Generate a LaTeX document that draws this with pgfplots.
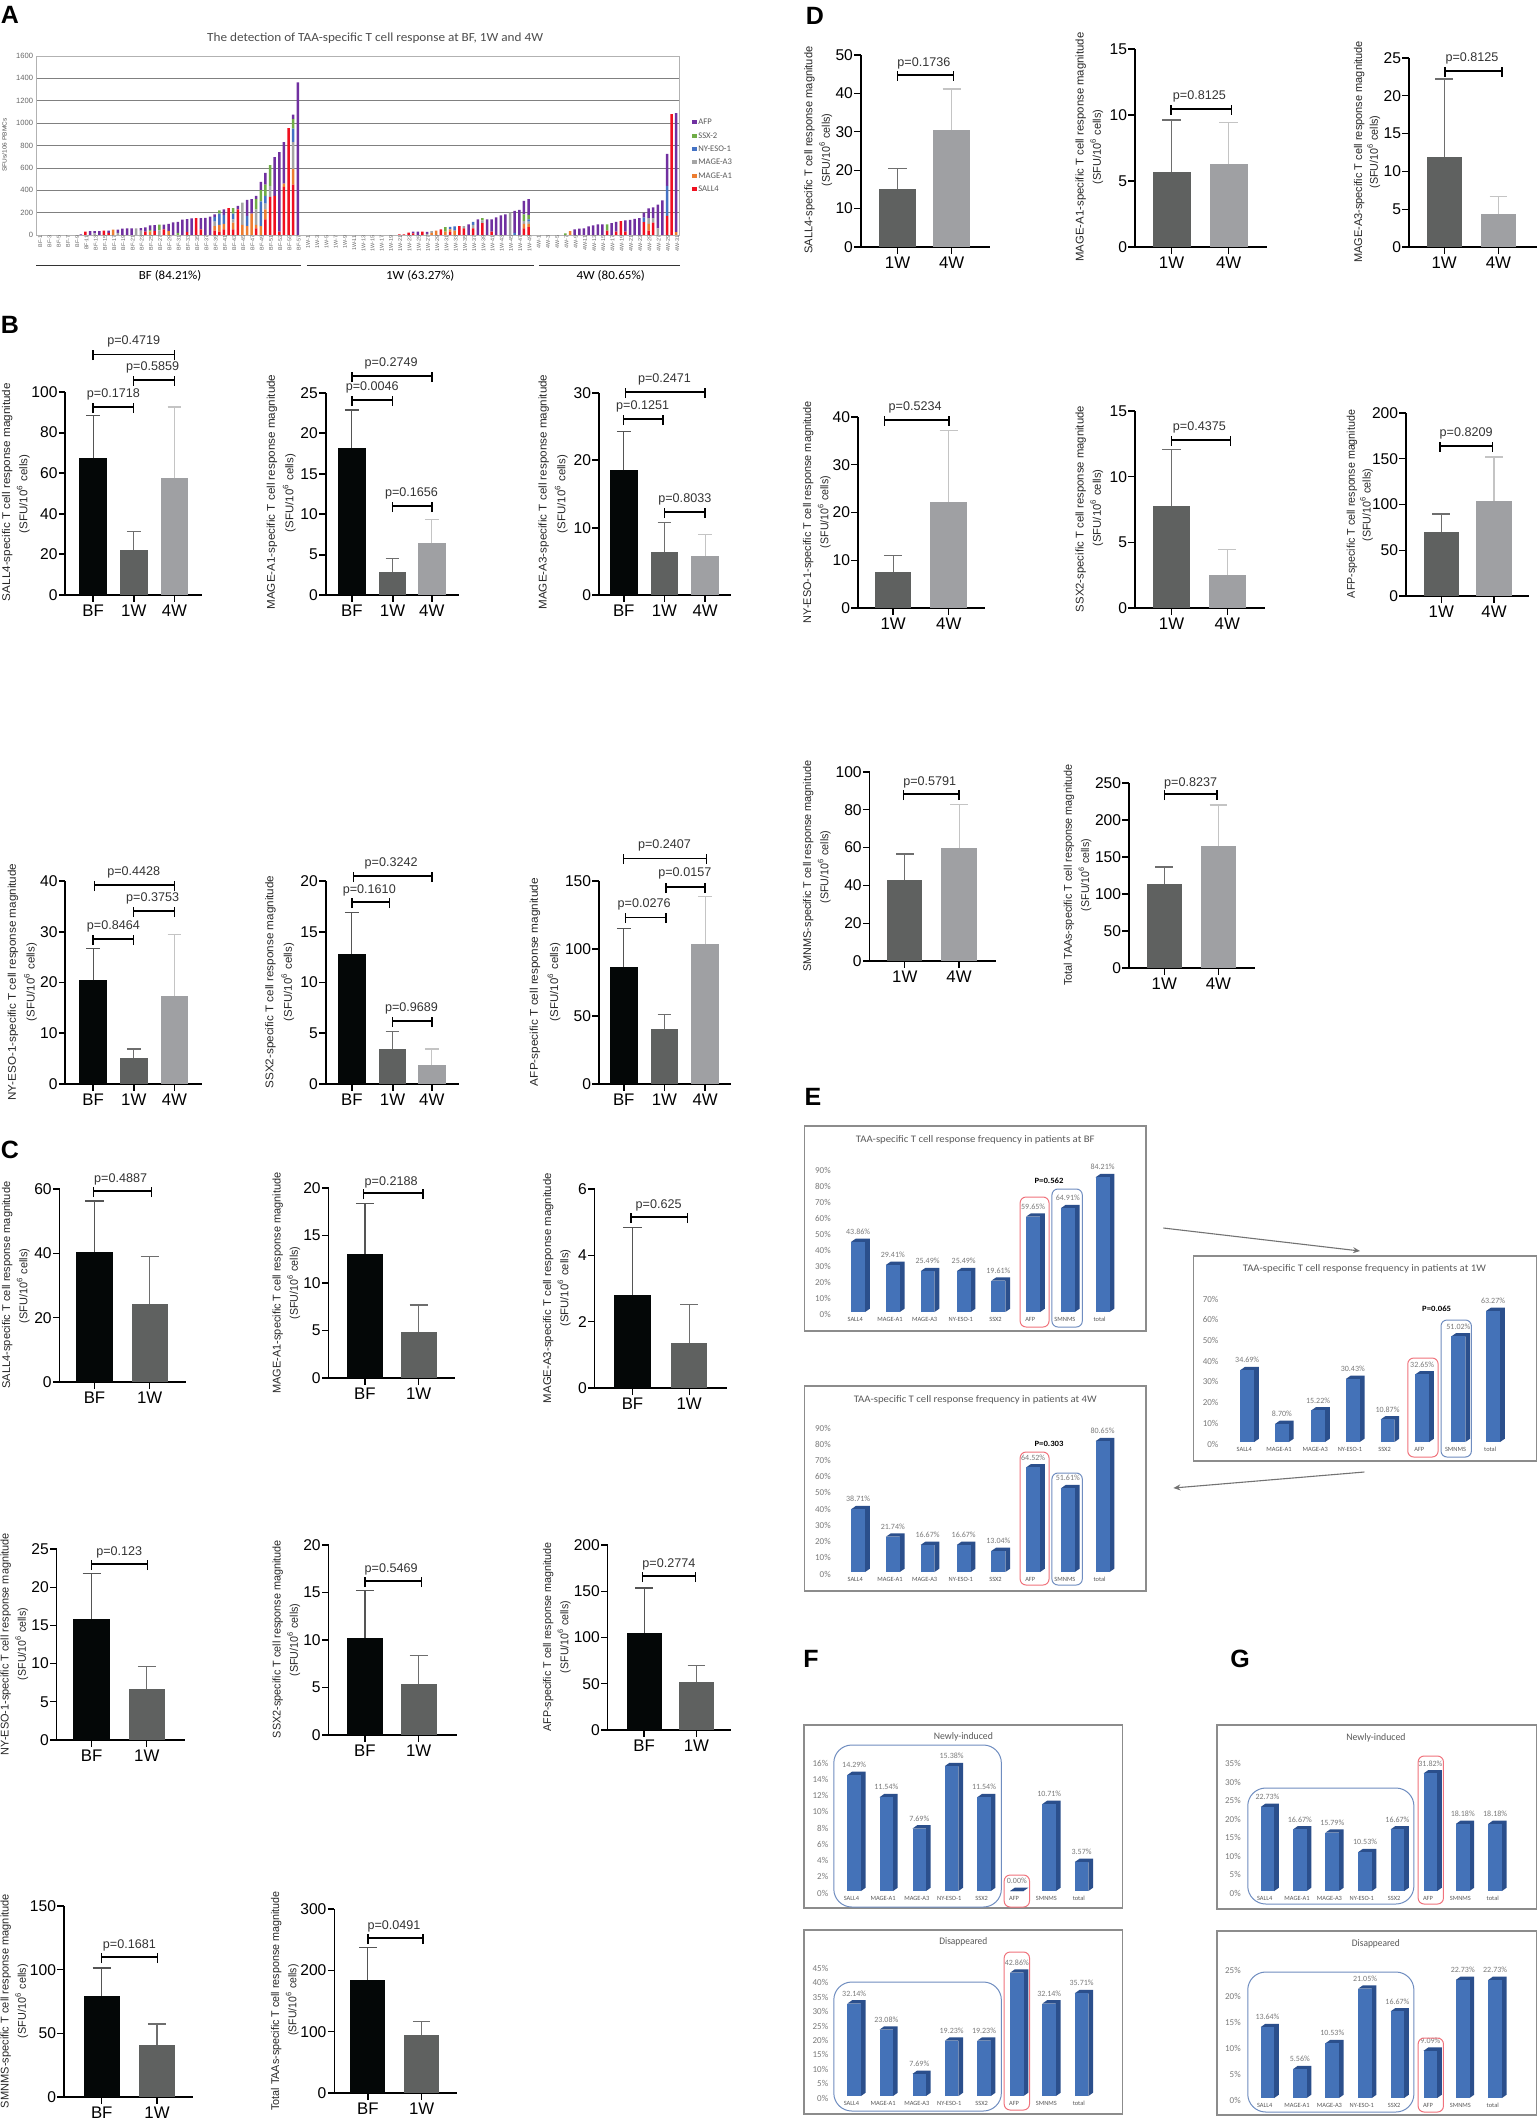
\documentclass[border=0pt]{standalone}
\usepackage{graphicx}
\usepackage{fontspec}
\usepackage{pgfplots}
\usepackage{pgfplotstable}
\pgfplotsset{compat=1.18}
\usetikzlibrary{arrows.meta}
\setmainfont{Liberation Sans}
\newfontfamily\cbr{Carlito}

\definecolor{cbf}{HTML}{040707}
\definecolor{cow}{HTML}{5F6160}
\definecolor{cfw}{HTML}{9FA0A3}
\definecolor{sbf}{HTML}{555555}
\definecolor{sow}{HTML}{6E6E6E}
\definecolor{sfw}{HTML}{C4C4C4}
\definecolor{cfront}{HTML}{4472B8}
\definecolor{cside}{HTML}{2B4F8C}
\definecolor{rbox}{HTML}{F0727C}
\definecolor{bbox}{HTML}{6F8DC0}
\definecolor{tgrey}{HTML}{7A7A7A}
\definecolor{asal}{HTML}{F01020}
\definecolor{aaone}{HTML}{ED7D31}
\definecolor{aathree}{HTML}{A5A5A5}
\definecolor{any}{HTML}{4472C4}
\definecolor{assx}{HTML}{70AD47}
\definecolor{aafp}{HTML}{7030A0}

\newcommand{\fs}[1]{\fontsize{#1}{#1}\selectfont}

% y is in image pixels, one pixel is 0.5pt on the page.
% x was read from crops: each region has an origin and a stretch, \mxv maps it.
\newcommand{\reg}[2]{\def\xo{#1}\def\xf{#2}}
\newcommand{\mxv}[1]{\xo*0.5pt-\xo*\xf*0.5pt+#1*\xf*0.5pt}

\newcommand{\setgp}[6]{%
  \def\gpL{#1}\def\gpR{#2}\def\gpZ{#3}\def\gpT{#4}\def\gpM{#5}%
  \pgfmathsetmacro\gpW{(#2-#1)*0.5*\xf}\pgfmathsetmacro\gpH{(#3-#4)*0.5}%
  \pgfmathsetmacro\gpX{(\xo+(#1-\xo)*\xf)*0.5}\pgfmathsetmacro\gpY{-#3*0.5}%
  \pgfmathsetmacro\gpB{#6*0.5*\xf}\pgfmathsetmacro\gpC{#6/4}}

% bar with its upper error line and cap
\newcommand{\dbar}[5]{%
  \pgfmathsetmacro\xa{#1-\gpC}\pgfmathsetmacro\xb{#1+\gpC}%
  \edef\tmp{%
    \noexpand\addplot[ybar,bar shift=0pt,bar width=\gpB pt,fill=#4,draw=none] coordinates {(#1,#2)};
    \noexpand\addplot[#5,line width=.55pt] coordinates {(#1,#2)(#1,#3)};
    \noexpand\addplot[#5,line width=.7pt] coordinates {(\xa,#3)(\xb,#3)};}\tmp}

% bracket and p value: x1 x2 y(px) width label lx ly(px)
\newcommand{\br}[7]{%
  \pgfmathsetmacro\ya{(\gpZ-#3)/(\gpZ-\gpT)*\gpM}%
  \pgfmathsetmacro\yb{(\gpZ-#3-6)/(\gpZ-\gpT)*\gpM}%
  \pgfmathsetmacro\yc{(\gpZ-#3+4)/(\gpZ-\gpT)*\gpM}%
  \pgfmathsetmacro\yl{(\gpZ-#7)/(\gpZ-\gpT)*\gpM}%
  \edef\tmp{%
    \noexpand\addplot[black,line width=#4pt] coordinates {(#1,\ya)(#2,\ya)};
    \noexpand\addplot[black,line width=.7pt] coordinates {(#1,\yb)(#1,\yc)};
    \noexpand\addplot[black,line width=.7pt] coordinates {(#2,\yb)(#2,\yc)};
    \noexpand\node[ptxt] at (axis cs:#6,\yl) {#5};}\tmp}

% 3D look bar of the spreadsheet panels
\newcommand{\tb}[2]{%
  \pgfmathsetmacro\dy{3.3/(\gpZ-\gpT)*\gpM}\pgfmathsetmacro\yt{#2+\dy}%
  \pgfmathsetmacro\xl{#1-4.8}\pgfmathsetmacro\xr{#1+4.8}%
  \pgfmathsetmacro\xe{\xl+3.3}\pgfmathsetmacro\xd{\xr+3.3}%
  \pgfmathsetmacro\bwt{4.8*\xf}%
  \edef\tmp{%
    \noexpand\addplot[draw=none,fill=cside] coordinates {(\xl,#2)(\xe,\yt)(\xd,\yt)(\xd,\dy)(\xr,0)(\xr,#2)} --cycle;
    \noexpand\addplot[ybar,bar shift=0pt,bar width=\bwt pt,fill=cfront,draw=none] coordinates {(#1,#2)};
    \noexpand\node[vtxt] at (axis cs:#1,#2) {#2\noexpand\%};}\tmp}

\newcommand{\tx}[5]{\pgfmathsetlengthmacro\LL{#3*\xf*0.5pt}%
  \node[inner sep=0pt,#4] at (\mxv{#1},-#2*0.5pt) {\resizebox{\LL}{\height}{#5}};}
\newcommand{\txr}[5]{\pgfmathsetlengthmacro\LL{#3*0.5pt}%
  \node[inner sep=0pt,rotate=90,#4] at (\mxv{#1},-#2*0.5pt) {\resizebox{\LL}{\height}{#5}};}
\newcommand{\ylab}[7]{%
  \txr{#1}{#2}{#3}{font=\fs{5.6},text=black!85}{#4}%
  \txr{#5}{#6}{#7}{font=\fs{5.6},text=black!85}{(SFU/10\textsuperscript{6} cells)}}
\newcommand{\frm}[4]{\draw[black!45,line width=.8pt,fill=white] (\mxv{#1},-#2*0.5pt) rectangle (\mxv{#3},-#4*0.5pt);}
\newcommand{\rr}[6]{\draw[#1,line width=.5pt,rounded corners=#6pt] (\mxv{#2},-#3*0.5pt) rectangle (\mxv{#4},-#5*0.5pt);}
\newcommand{\plet}[3]{\node[font=\bfseries\fs{12.5},inner sep=0pt] at (#1*0.5pt,-#2*0.5pt) {#3};}

\tikzset{
  ptxt/.style={font=\fs{6.3},text=black!80,inner sep=0pt},
  vtxt/.style={font=\cbr\fs{4},text=tgrey,inner sep=0pt,yshift=5pt},
}
\pgfplotsset{
  base/.style={scale only axis,width=\gpW pt,height=\gpH pt,at={(\gpX pt,\gpY pt)},anchor=south west,
    xmin=\gpL,xmax=\gpR,ymin=0,ymax=\gpM,clip=false,axis lines=left,scaled ticks=false,
    /pgf/number format/assume math mode=true,/pgf/number format/1000 sep={},
    every axis plot/.append style={mark=none,forget plot}},
  bp/.style={base,axis line style={-,line width=.65pt,black},tick style={line width=.65pt,black},
    tick align=outside,major tick length=3.3pt,
    yticklabel={\pgfmathprintnumber{\tick}},
    ytick pos=left,xtick pos=bottom,
    yticklabel style={font=\fs{7.8},inner sep=0pt,xshift=-.5pt},
    xticklabel style={font=\fs{8.4},inner sep=0pt,yshift=-1.5pt}},
  bB/.style={axis line style={-,line width=.95pt,black},tick style={line width=.95pt,black}},
  lbf/.style={xticklabels={BF,1W,4W}},
  lbo/.style={xticklabels={BF,1W}},
  lof/.style={xticklabels={1W,4W}},
  ep/.style={base,axis line style={draw=none},major tick length=0pt,tick style={draw=none},
    yticklabel={\pgfmathprintnumber{\tick}\%},
    yticklabel style={font=\cbr\fs{4.5},text=tgrey,inner sep=0pt,yshift=-1pt,xshift=-.5pt},
    xticklabel style={font=\cbr\fs{3.2},text=black!65,inner sep=0pt,yshift=-2.5pt},
    xticklabels={SALL4,MAGE-A1,MAGE-A3,NY-ESO-1,SSX2,AFP,SMNMS,total}},
}

% panel A: patients in order, position 0 is BF-1, 58 is 1W-1, 108 is 4W-1
\pgfplotstableread{
i sal aone athree ny ssx afp
9 0 0 0 0 0 5
10 30 0 0 0 0 0
11 0 0 0 0 0 35
12 0 0 15 0 0 20
13 0 0 0 0 0 35
14 38 0 0 0 0 0
15 20 0 0 0 0 20
16 0 48 0 0 0 0
17 0 0 20 0 0 28
18 0 0 0 0 0 58
19 0 0 0 0 0 60
20 0 0 0 0 0 60
21 0 0 60 0 0 0
22 0 0 40 0 0 22
23 30 0 0 0 0 38
24 0 30 0 0 15 40
25 35 0 0 0 0 53
26 0 0 42 0 50 0
27 50 0 0 0 0 42
28 0 35 0 0 0 65
29 0 0 0 0 0 112
30 0 0 0 0 20 98
31 0 0 0 0 0 138
32 25 0 0 0 0 117
33 0 0 0 0 0 148
34 150 0 0 0 0 0
35 50 0 0 0 0 100
36 0 0 0 0 0 152
37 0 0 0 0 0 165
38 40 40 40 40 0 25
39 30 60 0 100 30 0
40 50 50 0 80 0 50
41 240 0 0 0 0 0
42 50 60 30 50 50 0
43 230 0 0 0 0 30
44 0 90 200 0 0 0
45 0 80 0 90 0 145
46 0 190 0 0 0 130
47 60 30 140 0 90 30
48 0 80 0 220 100 75
49 140 90 50 70 100 105
50 340 0 100 0 185 0
51 350 0 0 0 0 345
52 30 0 0 0 0 710
53 430 30 0 0 0 370
54 955 0 0 0 0 0
55 450 140 240 120 85 40
56 0 0 0 0 0 1365
78 5 0 0 0 0 0
79 5 0 0 0 0 0
80 22 0 0 0 0 0
81 15 0 0 0 0 15
82 0 0 0 0 0 30
83 30 0 0 0 0 0
84 0 0 10 0 0 18
85 0 20 15 0 0 0
86 0 40 0 0 0 0
87 50 0 0 0 0 0
88 0 30 0 0 40 0
89 25 25 0 22 0 0
90 0 40 0 38 0 0
91 80 0 0 0 0 0
92 60 0 20 0 0 0
93 0 0 0 0 0 95
94 60 0 30 28 0 0
95 0 0 0 0 0 140
96 105 0 25 0 20 0
97 0 0 0 0 0 140
98 30 0 0 0 0 110
99 0 0 0 0 0 158
100 0 0 0 0 0 175
101 0 0 0 0 0 185
102 0 0 200 0 0 0
103 0 0 0 20 0 195
104 0 0 0 0 0 225
105 60 40 25 0 60 120
106 70 30 20 20 40 140
114 0 0 0 0 15 0
115 0 35 0 0 0 0
116 0 0 0 0 0 50
117 0 0 0 0 0 58
118 0 0 0 0 0 60
119 0 0 0 0 0 78
120 0 0 0 0 0 85
121 0 0 0 0 0 95
122 0 0 0 0 0 95
123 40 0 0 0 55 0
124 0 0 0 0 0 105
125 30 0 0 0 0 88
126 125 0 0 0 0 0
127 30 0 0 0 0 100
128 0 0 0 0 0 135
129 0 0 0 0 0 145
130 0 0 0 0 0 150
131 115 0 0 40 0 45
132 40 60 50 0 0 88
133 110 0 40 0 0 98
134 0 0 60 0 0 212
135 0 0 0 0 0 310
136 170 0 0 270 0 285
137 1080 0 0 0 0 0
138 0 25 0 0 0 1065
}\tblA

\begin{document}
\begin{tikzpicture}
\path[use as bounding box] (0,0) rectangle (768pt,-1059pt);

\plet{10}{15}{A}\plet{10}{325}{B}\plet{10}{1150}{C}\plet{815}{16}{D}
\plet{813}{1097}{E}\plet{811}{1659}{F}\plet{1240}{1659}{G}

% ===== A
\reg{0}{1.454}
\begin{axis}[scale only axis,width=321.3pt,height=89.5pt,at={(18.2pt,-117.5pt)},anchor=south west,
  ybar stacked,bar width=1.25pt,xmin=-0.63,xmax=138.6,ymin=0,ymax=1600,
  ytick={0,200,...,1600},xtick={0,2,...,138},
  axis line style={black!30,line width=.4pt},
  major grid style={black!50,line width=.35pt},ymajorgrids,
  major tick length=0pt,scaled ticks=false,
  /pgf/number format/assume math mode=true,/pgf/number format/1000 sep={},
  yticklabel={\pgfmathprintnumber{\tick}},
  yticklabel style={font=\fs{3.8},text=black!60,inner sep=0pt,xshift=-1.5pt},
  xticklabel style={font=\fs{2.7},text=black!60,rotate=90,anchor=east,inner sep=0pt,yshift=-.5pt},
  xticklabel={\pgfmathtruncatemacro\ii{\tick}%
    \ifnum\ii<57 \pgfmathtruncatemacro\nn{\ii+1}BF-\nn
    \else\ifnum\ii<107 \pgfmathtruncatemacro\nn{\ii-57}1W-\nn
    \else\pgfmathtruncatemacro\nn{\ii-107}4W-\nn\fi\fi}]
  \addplot[fill=asal,draw=none] table[x=i,y=sal] {\tblA};
  \addplot[fill=aaone,draw=none] table[x=i,y=aone] {\tblA};
  \addplot[fill=aathree,draw=none] table[x=i,y=athree] {\tblA};
  \addplot[fill=any,draw=none] table[x=i,y=ny] {\tblA};
  \addplot[fill=assx,draw=none] table[x=i,y=ssx] {\tblA};
  \addplot[fill=aafp,draw=none] table[x=i,y=afp] {\tblA};
\end{axis}
\tx{258}{38}{231}{font=\cbr\fs{6.2},text=black!70}{The detection of TAA-specific T cell response at BF, 1W and 4W}
\txr{3}{145}{53}{font=\fs{3},text=black!70}{SFUs/106 PBMCs}
\draw[black!80,line width=.4pt] (\mxv{25},-132.5pt) -- (\mxv{207},-132.5pt);
\draw[black!80,line width=.4pt] (\mxv{211},-132.5pt) -- (\mxv{367},-132.5pt);
\draw[black!80,line width=.4pt] (\mxv{371},-132.5pt) -- (\mxv{468},-132.5pt);
\tx{117}{276}{43}{font=\cbr\fs{6.2}}{BF (84.21\%)}
\tx{289}{276}{47}{font=\cbr\fs{6.2}}{1W (63.27\%)}
\tx{420}{276}{47}{font=\cbr\fs{6.2}}{4W (80.65\%)}
\foreach \yy/\cc/\tt in {122/aafp/AFP,136/assx/SSX-2,149/any/NY-ESO-1,162/aathree/MAGE-A3,176/aaone/MAGE-A1,189/asal/SALL4}{
  \fill[\cc] (\mxv{476},-\yy*0.5pt-1.2pt) rectangle ++(2.4pt,2.4pt);
  \node[anchor=west,inner sep=0pt,font=\cbr\fs{4.3},text=black!65] at (\mxv{480},-\yy*0.5pt) {\tt};
}

% ===== B
\setgp{45}{139}{595}{392}{100}{19}
\begin{axis}[bp,bB,lbf,ytick={0,20,...,100},xtick={64,92,120}]
  \dbar{64}{67.3}{88.3}{cbf}{sbf}\dbar{92}{22.2}{31.2}{cow}{sow}\dbar{120}{57.4}{92.6}{cfw}{sfw}
  \br{64}{92}{407}{1}{p=0.1718}{78}{394}
  \br{92}{120}{380}{.7}{p=0.5859}{105}{367}
  \br{64}{120}{354}{.5}{p=0.4719}{92}{341}
\end{axis}
\ylab{5}{492}{218}{SALL4-specific T cell response magnitude}{16}{494}{79}

\setgp{224}{316}{595}{393}{25}{19}
\begin{axis}[bp,bB,lbf,ytick={0,5,...,25},xtick={242,270,297}]
  \dbar{242}{18.2}{22.9}{cbf}{sbf}\dbar{270}{2.84}{4.5}{cow}{sow}\dbar{297}{6.4}{9.35}{cfw}{sfw}
  \br{242}{270}{400}{.6}{p=0.0046}{256}{387}
  \br{270}{297}{506}{.9}{p=0.1656}{283}{493}
  \br{242}{297}{376}{.7}{p=0.2749}{269}{363}
\end{axis}
\ylab{187}{492}{235}{MAGE-A1-specific T cell response magnitude}{199}{493}{78}

\setgp{412}{503}{595}{393}{30}{19}
\begin{axis}[bp,bB,lbf,ytick={0,10,...,30},xtick={429,457,485}]
  \dbar{429}{18.5}{24.3}{cbf}{sbf}\dbar{457}{6.4}{10.8}{cow}{sow}\dbar{485}{5.8}{9}{cfw}{sfw}
  \br{429}{456}{419}{.9}{p=0.1251}{442}{406}
  \br{457}{485}{512}{.8}{p=0.8033}{471}{499}
  \br{430}{485}{392}{.6}{p=0.2471}{457}{379}
\end{axis}
\ylab{374}{492}{235}{MAGE-A3-specific T cell response magnitude}{386}{494}{78}

\setgp{45}{139}{1084}{881}{40}{19}
\begin{axis}[bp,bB,lbf,ytick={0,10,...,40},xtick={64,92,120}]
  \dbar{64}{20.4}{26.7}{cbf}{sbf}\dbar{92}{5.2}{6.9}{cow}{sow}\dbar{120}{17.4}{29.5}{cfw}{sfw}
  \br{64}{92}{939}{.8}{p=0.8464}{78}{926}
  \br{92}{120}{911}{.8}{p=0.3753}{105}{898}
  \br{65}{120}{885}{.8}{p=0.4428}{92}{872}
\end{axis}
\ylab{9}{982}{237}{NY-ESO-1-specific T cell response magnitude}{21}{982}{78}

\setgp{224}{316}{1084}{881}{20}{19}
\begin{axis}[bp,bB,lbf,ytick={0,5,...,20},xtick={242,270,297}]
  \dbar{242}{12.85}{16.9}{cbf}{sbf}\dbar{270}{3.4}{5.2}{cow}{sow}\dbar{297}{1.9}{3.45}{cfw}{sfw}
  \br{242}{268}{902}{.8}{p=0.1610}{254}{890}
  \br{270}{297}{1021}{.9}{p=0.9689}{283}{1008}
  \br{243}{297}{876}{.7}{p=0.3242}{269}{863}
\end{axis}
\ylab{186}{982}{213}{SSX2-specific T cell response magnitude}{198}{982}{78}

\setgp{412}{503}{1084}{881}{150}{19}
\begin{axis}[bp,bB,lbf,ytick={0,50,...,150},xtick={429,457,485}]
  \dbar{429}{86.7}{114.8}{cbf}{sbf}\dbar{457}{41}{51.5}{cow}{sow}\dbar{485}{103.2}{138.7}{cfw}{sfw}
  \br{430}{458}{917}{.5}{p=0.0276}{443}{904}
  \br{458}{485}{887}{1.1}{p=0.0157}{471}{873}
  \br{429}{486}{858}{.45}{p=0.2407}{457}{845}
\end{axis}
\ylab{368}{982}{208}{AFP-specific T cell response magnitude}{381}{982}{78}

% ===== C
\setgp{41}{128}{1382}{1189}{60}{25}
\begin{axis}[bp,lbo,ytick={0,20,...,60},xtick={65,103}]
  \dbar{65}{40.4}{56.3}{cbf}{sbf}\dbar{103}{24.2}{39}{cow}{sow}
  \br{64.5}{104}{1191}{1.2}{p=0.4887}{83}{1179}
\end{axis}
\ylab{5}{1285}{207}{SALL4-specific T cell response magnitude}{16}{1286}{75}

\setgp{226}{313}{1378}{1188}{20}{25}
\begin{axis}[bp,lbo,ytick={0,5,...,20},xtick={251,288}]
  \dbar{251}{13.1}{18.4}{cbf}{sbf}\dbar{288}{4.8}{7.7}{cow}{sow}
  \br{250}{291}{1193}{.7}{p=0.2188}{269}{1182}
\end{axis}
\ylab{191}{1283}{221}{MAGE-A1-specific T cell response magnitude}{202}{1283}{73}

\setgp{409}{500}{1388}{1189}{6}{25}
\begin{axis}[bp,lbo,ytick={0,2,...,6},xtick={435,474}]
  \dbar{435}{2.81}{4.84}{cbf}{sbf}\dbar{474}{1.37}{2.52}{cow}{sow}
  \br{434}{473}{1217}{.7}{p=0.625}{453}{1205}
\end{axis}
\ylab{377}{1288}{230}{MAGE-A3-specific T cell response magnitude}{388}{1288}{77}

\setgp{39}{127}{1740}{1549}{25}{25}
\begin{axis}[bp,lbo,ytick={0,5,...,25},xtick={63,101}]
  \dbar{63}{15.9}{21.8}{cbf}{sbf}\dbar{101}{6.7}{9.6}{cow}{sow}
  \br{63}{101.5}{1564}{1.2}{p=0.123}{82}{1552}
\end{axis}
\ylab{4}{1644}{222}{NY-ESO-1-specific T cell response magnitude}{15}{1644}{72}

\setgp{226}{314}{1735}{1545}{20}{25}
\begin{axis}[bp,lbo,ytick={0,5,...,20},xtick={251,288}]
  \dbar{251}{10.2}{15.2}{cbf}{sbf}\dbar{288}{5.4}{8.4}{cow}{sow}
  \br{251}{290}{1581}{.7}{p=0.5469}{269}{1569}
\end{axis}
\ylab{191}{1639}{198}{SSX2-specific T cell response magnitude}{202}{1640}{73}

\setgp{418}{503}{1730}{1545}{200}{24}
\begin{axis}[bp,lbo,ytick={0,50,...,200},xtick={443,479}]
  \dbar{443}{105.4}{153.6}{cbf}{sbf}\dbar{479}{52.2}{70}{cow}{sow}
  \br{442}{478.5}{1576}{.8}{p=0.2774}{460}{1564}
\end{axis}
\ylab{377}{1637}{189}{AFP-specific T cell response magnitude}{388}{1637}{72}

\setgp{44}{133}{2097}{1906}{150}{25}
\begin{axis}[bp,lbo,ytick={0,50,...,150},xtick={70,108}]
  \dbar{70}{79.4}{101.4}{cbf}{sbf}\dbar{108}{41}{57.2}{cow}{sow}
  \br{70}{108.5}{1957}{.8}{p=0.1681}{89}{1945}
\end{axis}
\ylab{4}{2001}{214}{SMNMS-specific T cell response magnitude}{15}{2001}{74}

\setgp{230}{314}{2093}{1909}{300}{24}
\begin{axis}[bp,lbo,ytick={0,100,...,300},xtick={253,290}]
  \dbar{253}{184}{237}{cbf}{sbf}\dbar{290}{94}{117}{cow}{sow}
  \br{253}{291}{1938}{1.1}{p=0.0491}{271}{1926}
\end{axis}
\ylab{190}{2001}{219}{Total TAAs-specific T cell response magnitude}{201}{2000}{71}

% ===== D
\reg{770}{1.4656}
\setgp{832}{920}{247}{55}{50}{25}
\begin{axis}[bp,lof,ytick={0,10,...,50},xtick={857,894}]
  \dbar{857}{15}{20.4}{cow}{sow}\dbar{894}{30.4}{41.1}{cfw}{sfw}
  \br{857}{895}{75}{1.2}{p=0.1736}{875}{63}
\end{axis}
\ylab{797}{150}{207}{SALL4-specific T cell response magnitude}{808}{150}{73}

\setgp{1019}{1109}{247}{49}{15}{26}
\begin{axis}[bp,lof,ytick={0,5,...,15},xtick={1044,1083}]
  \dbar{1044}{5.65}{9.63}{cow}{sow}\dbar{1083}{6.28}{9.43}{cfw}{sfw}
  \br{1043.5}{1085}{109}{.9}{p=0.8125}{1063}{96}
\end{axis}
\ylab{982}{147}{229}{MAGE-A1-specific T cell response magnitude}{993}{147}{75}

\setgp{1206}{1293}{247}{58}{25}{24}
\begin{axis}[bp,lof,ytick={0,5,...,25},xtick={1230,1267}]
  \dbar{1230}{11.9}{22.2}{cow}{sow}\dbar{1267}{4.37}{6.66}{cfw}{sfw}
  \br{1230.5}{1269.5}{71}{.7}{p=0.8125}{1249}{58}
\end{axis}
\ylab{1172}{152}{222}{MAGE-A3-specific T cell response magnitude}{1182}{152}{73}

\setgp{830}{917}{608}{417}{40}{25}
\begin{axis}[bp,lof,ytick={0,10,...,40},xtick={854,892}]
  \dbar{854}{7.57}{11}{cow}{sow}\dbar{892}{22.2}{37.2}{cfw}{sfw}
  \br{848}{892}{420}{.7}{p=0.5234}{869}{407}
\end{axis}
\ylab{796}{512}{222}{NY-ESO-1-specific T cell response magnitude}{807}{512}{72}

\setgp{1019}{1108}{608}{411}{15}{25}
\begin{axis}[bp,lof,ytick={0,5,...,15},xtick={1044,1082}]
  \dbar{1044}{7.74}{12.05}{cow}{sow}\dbar{1082}{2.55}{4.46}{cfw}{sfw}
  \br{1044}{1084}{440}{.9}{p=0.4375}{1063}{427}
\end{axis}
\ylab{982}{509}{206}{SSX2-specific T cell response magnitude}{993}{508}{77}

\setgp{1204}{1288}{596}{413}{200}{24}
\begin{axis}[bp,lof,ytick={0,50,...,200},xtick={1228,1264}]
  \dbar{1228}{70.2}{89.5}{cow}{sow}\dbar{1264}{104}{152}{cfw}{sfw}
  \br{1227}{1263}{446}{.8}{p=0.8209}{1245}{433}
\end{axis}
\ylab{1167}{504}{188}{AFP-specific T cell response magnitude}{1177}{505}{73}

\setgp{838}{924}{961}{772}{100}{24}
\begin{axis}[bp,lof,ytick={0,20,...,100},xtick={862,899}]
  \dbar{862}{43}{56.6}{cow}{sow}\dbar{899}{59.6}{82.7}{cfw}{sfw}
  \br{861}{899}{794}{1.4}{p=0.5791}{879}{782}
\end{axis}
\ylab{796}{866}{211}{SMNMS-specific T cell response magnitude}{807}{867}{73}

\setgp{1015}{1101}{968}{783}{250}{24}
\begin{axis}[bp,lof,ytick={0,50,...,250},xtick={1039,1076}]
  \dbar{1039}{113.5}{136.5}{cow}{sow}\dbar{1076}{165.3}{220.3}{cfw}{sfw}
  \br{1039}{1075}{794}{.7}{p=0.8237}{1057}{783}
\end{axis}
\ylab{974}{875}{221}{Total TAAs-specific T cell response magnitude}{985}{875}{72}

% ===== E
\reg{780}{1.4464}
\frm{797}{1126}{1033}{1331}
\tx{915}{1140}{165}{font=\cbr\fs{5},text=black!65}{TAA-specific T cell response frequency in patients at BF}
\setgp{816}{1030}{1312}{1168}{90}{9.6}
\begin{axis}[ep,ytick={0,10,...,90},xtick={832,856,880,905,929,953,977,1001}]
  \tb{834}{43.86}\tb{858}{29.41}\tb{882}{25.49}\tb{907}{25.49}\tb{931}{19.61}\tb{955}{59.65}\tb{979}{64.91}\tb{1003}{84.21}
\end{axis}
\rr{rbox}{946}{1197}{966}{1327}{3}\rr{bbox}{968}{1189}{989}{1327}{3}
\tx{966}{1181}{20}{font=\bfseries\cbr\fs{4}}{P=0.562}

\frm{1066}{1256}{1303}{1461}
\tx{1184}{1269}{168}{font=\cbr\fs{5},text=black!65}{TAA-specific T cell response frequency in patients at 1W}
\setgp{1084}{1300}{1442}{1297}{70}{9.6}
\begin{axis}[ep,ytick={0,10,...,70},xtick={1101,1125,1150,1174,1198,1222,1247,1271}]
  \tb{1103}{34.69}\tb{1127}{8.70}\tb{1152}{15.22}\tb{1176}{30.43}\tb{1200}{10.87}\tb{1224}{32.65}\tb{1249}{51.02}\tb{1273}{63.27}
\end{axis}
\rr{rbox}{1214}{1358}{1235}{1457}{3}\rr{bbox}{1237}{1320}{1258}{1457}{3}
\tx{1234}{1309}{20}{font=\bfseries\cbr\fs{4}}{P=0.065}

\frm{797}{1386}{1033}{1591}
\tx{915}{1400}{168}{font=\cbr\fs{5},text=black!65}{TAA-specific T cell response frequency in patients at 4W}
\setgp{816}{1030}{1572}{1426}{90}{9.6}
\begin{axis}[ep,ytick={0,10,...,90},xtick={832,856,880,905,929,953,977,1001}]
  \tb{834}{38.71}\tb{858}{21.74}\tb{882}{16.67}\tb{907}{16.67}\tb{931}{13.04}\tb{955}{64.52}\tb{979}{51.61}\tb{1003}{80.65}
\end{axis}
\rr{rbox}{946}{1452}{966}{1585}{3}\rr{bbox}{968}{1473}{989}{1585}{3}
\tx{966}{1444}{20}{font=\bfseries\cbr\fs{4}}{P=0.303}

\draw[-{Stealth[length=3.5pt,width=3pt]},black!55,line width=.55pt] (\mxv{1045},-1228*0.5pt) -- (\mxv{1181},-1251*0.5pt);
\draw[-{Stealth[length=3.5pt,width=3pt]},black!55,line width=.55pt] (\mxv{1184},-1472*0.5pt) -- (\mxv{1052},-1488*0.5pt);

% ===== F
\reg{800}{1.408}
\frm{803}{1725}{1029}{1908}
\tx{916}{1737}{42}{font=\cbr\fs{5},text=black!65}{Newly-induced}
\setgp{821}{1026}{1891}{1761}{16}{9.6}
\begin{axis}[ep,ytick={0,2,...,16},xtick={836.5,859,883,906,929,952,975,998}]
  \tb{838.5}{14.29}\tb{861.3}{11.54}\tb{884.7}{7.69}\tb{907.7}{15.38}\tb{930.7}{11.54}\tb{954}{0.00}\tb{977}{10.71}\tb{1000}{3.57}
\end{axis}
\rr{bbox}{824}{1745}{943}{1907}{9}\rr{rbox}{945}{1875}{963}{1907}{3}

\frm{803}{1930}{1029}{2114}
\tx{916}{1942}{34}{font=\cbr\fs{5},text=black!65}{Disappeared}
\setgp{821}{1026}{2096}{1966.5}{45}{9.6}
\begin{axis}[ep,ytick={0,5,...,45},xtick={836.5,859,883,906,929,952,975,998}]
  \tb{838.5}{32.14}\tb{861.3}{23.08}\tb{884.7}{7.69}\tb{907.7}{19.23}\tb{930.7}{19.23}\tb{954}{42.86}\tb{977}{32.14}\tb{1000}{35.71}
\end{axis}
\rr{bbox}{824}{1982}{943}{2111}{9}\rr{rbox}{945}{1952}{963}{2110}{3}

% ===== G
\frm{1096}{1725}{1323}{1909}
\tx{1209}{1738}{42}{font=\cbr\fs{5},text=black!65}{Newly-induced}
\setgp{1114}{1320}{1891}{1761.6}{35}{9.6}
\begin{axis}[ep,ytick={0,5,...,35},xtick={1130,1153,1176,1199,1222,1246,1269,1292}]
  \tb{1132}{22.73}\tb{1155}{16.67}\tb{1178}{15.79}\tb{1201.3}{10.53}\tb{1224.3}{16.67}\tb{1247.7}{31.82}\tb{1270.7}{18.18}\tb{1293.7}{18.18}
\end{axis}
\rr{bbox}{1118}{1788}{1236}{1904}{9}\rr{rbox}{1239}{1756}{1257}{1904}{3}

\frm{1096}{1931}{1323}{2115}
\tx{1209}{1944}{34}{font=\cbr\fs{5},text=black!65}{Disappeared}
\setgp{1114}{1320}{2098}{1968}{25}{9.6}
\begin{axis}[ep,ytick={0,5,...,25},xtick={1130,1153,1176,1199,1222,1246,1269,1292}]
  \tb{1132}{13.64}\tb{1155}{5.56}\tb{1178}{10.53}\tb{1201.3}{21.05}\tb{1224.3}{16.67}\tb{1247.7}{9.09}\tb{1270.7}{22.73}\tb{1293.7}{22.73}
\end{axis}
\rr{bbox}{1118}{1972}{1236}{2112}{9}\rr{rbox}{1239}{2038}{1257}{2112}{3}

\end{tikzpicture}
\end{document}
